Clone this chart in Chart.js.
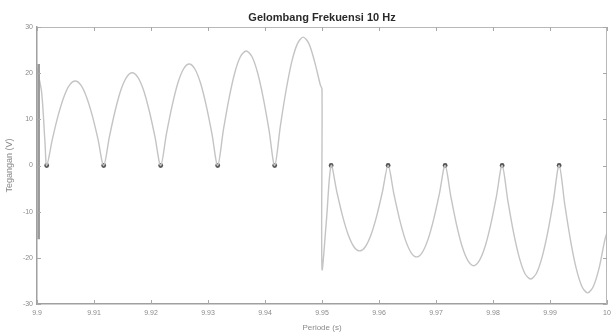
<!DOCTYPE html>
<html>
<head>
<meta charset="utf-8">
<script src="https://cdn.jsdelivr.net/npm/chart.js@4"></script>
<style>
  body { margin: 0; background: #fff; }
  canvas { display: block; }
</style>
</head>
<body>
<canvas id="wave" width="611" height="333"></canvas>
<script>
// waktu (s) dan tegangan (V)
const times = [
    9.9, 9.9008, 9.9014, 9.9017,
    9.9027, 9.9037, 9.9047, 9.9057, 9.9067, 9.9077, 9.9087, 9.9097, 9.9107, 9.9117,
    9.9127, 9.9137, 9.9147, 9.9157, 9.9167, 9.9177, 9.9187, 9.9197, 9.9207, 9.9217,
    9.9227, 9.9237, 9.9247, 9.9257, 9.9267, 9.9277, 9.9287, 9.9297, 9.9307, 9.9317,
    9.9327, 9.9337, 9.9347, 9.9357, 9.9367, 9.9377, 9.9387, 9.9397, 9.9407, 9.9417,
    9.9427, 9.9437, 9.9447, 9.9457, 9.9467, 9.9477, 9.9487, 9.9497, 9.95,
    9.95, 9.9508, 9.9516,
    9.9526, 9.9536, 9.9546, 9.9556, 9.9566, 9.9576, 9.9586, 9.9596, 9.9606, 9.9616,
    9.9626, 9.9636, 9.9646, 9.9656, 9.9666, 9.9676, 9.9686, 9.9696, 9.9706, 9.9716,
    9.9726, 9.9736, 9.9746, 9.9756, 9.9766, 9.9776, 9.9786, 9.9796, 9.9806, 9.9816,
    9.9826, 9.9836, 9.9846, 9.9856, 9.9866, 9.9876, 9.9886, 9.9896, 9.9906, 9.9916,
    9.9926, 9.9936, 9.9946, 9.9956, 9.9966, 9.9976, 9.9986, 9.9996, 10.0
];
const volts = [
    21, 16, 5, 0,
    5.7, 10.8, 14.8, 17.4, 18.3, 17.4, 14.8, 10.8, 5.7, 0,
    6.2, 11.8, 16.3, 19.1, 20.1, 19.1, 16.3, 11.8, 6.2, 0,
    6.8, 12.9, 17.8, 20.9, 22.0, 20.9, 17.8, 12.9, 6.8, 0,
    7.7, 14.6, 20.1, 23.6, 24.8, 23.6, 20.1, 14.6, 7.7, 0,
    8.6, 16.3, 22.5, 26.4, 27.8, 26.4, 22.5, 17.5, 16.5,
    -22.4, -11.5, 0,
    -5.7, -10.9, -15.0, -17.6, -18.5, -17.6, -15.0, -10.9, -5.7, 0,
    -6.1, -11.6, -16.0, -18.8, -19.8, -18.8, -16.0, -11.6, -6.1, 0,
    -6.7, -12.8, -17.6, -20.6, -21.7, -20.6, -17.6, -12.8, -6.7, 0,
    -7.6, -14.5, -19.9, -23.4, -24.6, -23.4, -19.9, -14.5, -7.6, 0,
    -8.5, -16.2, -22.3, -26.2, -27.6, -26.2, -22.3, -16.2, -14.5
];

// titik gelap di tegangan nol
const zeroTimes = [9.9017, 9.9117, 9.9217, 9.9317, 9.9417, 9.9516, 9.9616, 9.9716, 9.9816, 9.9916];

// garis tebal di awal sinyal
const startTimes = [9.9003, 9.9003];
const startVolts = [22, -16];

const yTicks = [-30, -20, -10, 0, 10, 20, 30];

const chartTitle = "Gelombang Frekuensi 10 Hz";
const fontFamily = '"Liberation Sans", Arial, Helvetica, sans-serif';

// kotak sumbu, tanda tick ke dalam dan judul di tengah sumbu (gaya MATLAB)
const framePlugin = {
    id: "frame",
    afterDraw(chart) {
        const { ctx, chartArea: a, scales } = chart;
        ctx.save();
        ctx.strokeStyle = "#b8b8b8";
        ctx.lineWidth = 1;
        ctx.beginPath();
        ctx.moveTo(a.left, a.top + 0.5);
        ctx.lineTo(a.right, a.top + 0.5);
        ctx.moveTo(a.right - 0.5, a.top);
        ctx.lineTo(a.right - 0.5, a.bottom);
        ctx.stroke();

        ctx.strokeStyle = "#a8a8a8";
        ctx.beginPath();
        scales.x.ticks.forEach((t) => {
            const px = Math.round(scales.x.getPixelForValue(t.value)) + 0.5;
            ctx.moveTo(px, a.bottom);
            ctx.lineTo(px, a.bottom - 4);
            ctx.moveTo(px, a.top);
            ctx.lineTo(px, a.top + 4);
        });
        scales.y.ticks.forEach((t) => {
            const py = Math.round(scales.y.getPixelForValue(t.value)) + 0.5;
            ctx.moveTo(a.left, py);
            ctx.lineTo(a.left + 4, py);
            ctx.moveTo(a.right, py);
            ctx.lineTo(a.right - 4, py);
        });
        ctx.stroke();

        ctx.fillStyle = "#2a2a2a";
        ctx.font = "bold 11px " + fontFamily;
        ctx.textAlign = "center";
        ctx.textBaseline = "middle";
        ctx.fillText(chartTitle, (a.left + a.right) / 2, 18);
        ctx.restore();
    },
};

new Chart(document.getElementById("wave").getContext("2d"), {
    type: "line",
    data: {
        datasets: [
            {
                label: "start",
                data: startTimes.map((t, i) => ({ x: t, y: startVolts[i] })),
                borderColor: "#9a9a9a",
                borderWidth: 2.5,
                pointRadius: 0,
            },
            {
                label: "tegangan",
                data: times.map((t, i) => ({ x: t, y: volts[i] })),
                borderColor: "#c4c4c4",
                borderWidth: 1.4,
                pointRadius: 0,
                tension: 0.3,
            },
            {
                label: "nol",
                data: zeroTimes.map((t) => ({ x: t, y: 0 })),
                showLine: false,
                pointRadius: 2.4,
                pointBackgroundColor: "#555",
                pointBorderWidth: 0,
            },
        ],
    },
    options: {
        responsive: false,
        animation: false,
        layout: { padding: { left: 0, right: 2, top: 27, bottom: 0 } },
        plugins: {
            legend: { display: false },
            tooltip: { enabled: false },
        },
        scales: {
            x: {
                type: "linear",
                min: 9.9,
                max: 10,
                ticks: {
                    stepSize: 0.01,
                    padding: 5,
                    color: "#8a8a8a",
                    font: { family: fontFamily, size: 7 },
                    maxRotation: 0,
                    autoSkip: false,
                    callback: (v) => String(Number(v.toFixed(2))),
                },
                grid: { display: false, drawTicks: false },
                border: { display: true, color: "#a0a0a0", width: 1.5 },
                title: {
                    display: true,
                    text: "Periode (s)",
                    color: "#8a8a8a",
                    font: { family: fontFamily, size: 8 },
                    padding: { top: 0, bottom: 0 },
                },
                afterFit(scale) {
                    scale.height = 29;
                    scale.paddingLeft = 0;
                    scale.paddingRight = 0;
                },
            },
            y: {
                min: -30,
                max: 30,
                afterBuildTicks(scale) {
                    scale.ticks = yTicks.map((v) => ({ value: v }));
                },
                ticks: {
                    padding: 4,
                    color: "#8a8a8a",
                    font: { family: fontFamily, size: 7 },
                },
                grid: { display: false, drawTicks: false },
                border: { display: true, color: "#a0a0a0", width: 1.5 },
                title: {
                    display: true,
                    text: "Tegangan (V)",
                    color: "#8a8a8a",
                    font: { family: fontFamily, size: 9 },
                    padding: { top: 4, bottom: 0 },
                },
                afterFit(scale) {
                    scale.width = 37;
                    scale.paddingTop = 0;
                    scale.paddingBottom = 0;
                },
            },
        },
    },
    plugins: [framePlugin],
});
</script>
</body>
</html>
